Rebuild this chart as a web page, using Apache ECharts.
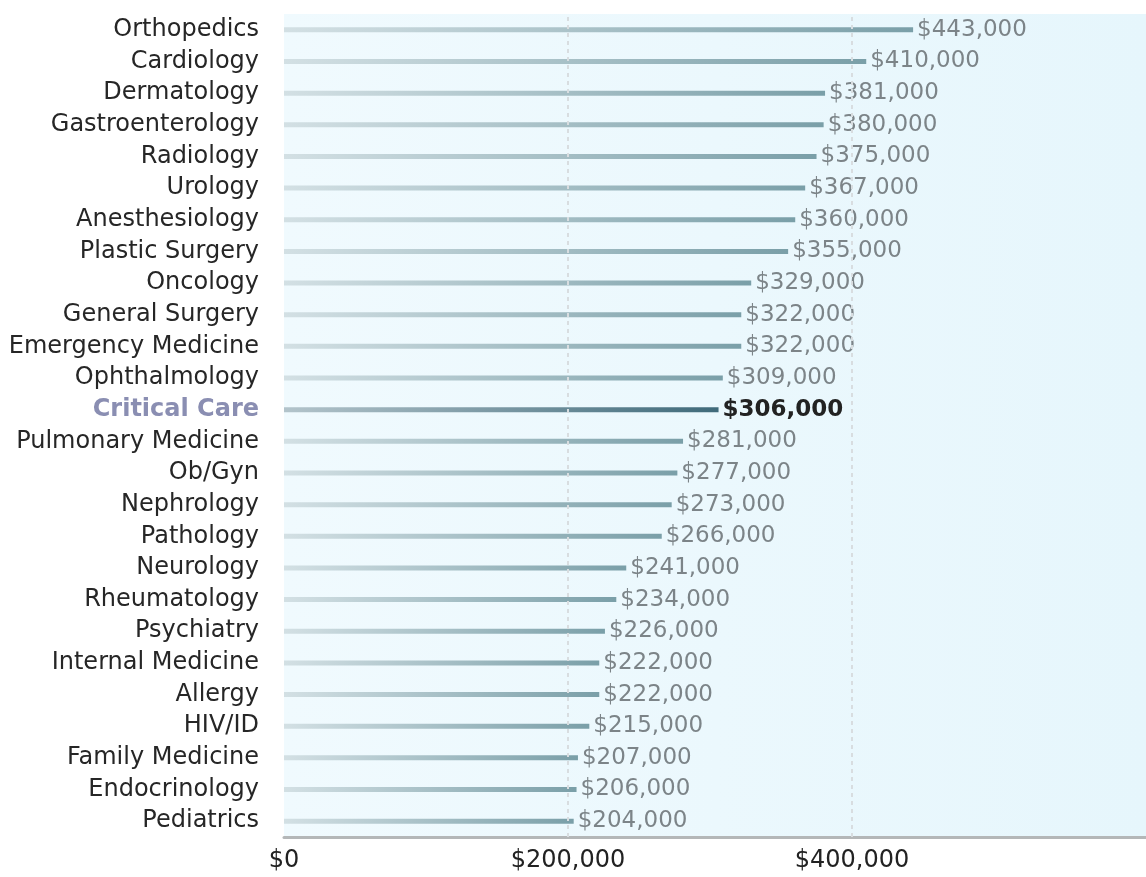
<!DOCTYPE html>
<html>
<head>
<meta charset="utf-8">
<script src="https://cdn.jsdelivr.net/npm/echarts@6/dist/echarts.min.js"></script>
<style>
  html, body { margin: 0; padding: 0; background: #fff; }
  #chart { width: 1146px; height: 877px; }
</style>
</head>
<body>
<div id="chart"></div>
<script>
// specialties, top to bottom
var specialties = ['Orthopedics', 'Cardiology', 'Dermatology', 'Gastroenterology', 'Radiology',
    'Urology', 'Anesthesiology', 'Plastic Surgery', 'Oncology', 'General Surgery',
    'Emergency Medicine', 'Ophthalmology', 'Critical Care', 'Pulmonary Medicine', 'Ob/Gyn',
    'Nephrology', 'Pathology', 'Neurology', 'Rheumatology', 'Psychiatry',
    'Internal Medicine', 'Allergy', 'HIV/ID', 'Family Medicine', 'Endocrinology', 'Pediatrics'];

// average compensation
var compensation = [443000, 410000, 381000, 380000, 375000, 367000, 360000, 355000, 329000, 322000,
    322000, 309000, 306000, 281000, 277000, 273000, 266000, 241000, 234000, 226000,
    222000, 222000, 215000, 207000, 206000, 204000];

var tickValues = [0, 200000, 400000];
var highlight = 'Critical Care';

function money(v) {
    return '$' + v.toString().replace(/\B(?=(\d{3})+(?!\d))/g, ',');
}

function grad(from, to) {
    return new echarts.graphic.LinearGradient(0, 0, 1, 0, [
        {offset: 0, color: from},
        {offset: 1, color: to}
    ]);
}

// category axis goes bottom-up, so flip
var cats = specialties.slice().reverse();
var vals = compensation.slice().reverse();

var yData = [];
var barData = [];
for (var i = 0; i < cats.length; i++) {
    if (cats[i] === highlight) {
        yData.push({value: cats[i], textStyle: {color: '#8a8eb2', fontWeight: 'bold'}});
        barData.push({
            value: vals[i],
            itemStyle: {color: grad('#b3c4cb', '#3f6a7a')},
            label: {color: '#222', fontWeight: 'bold'}
        });
    } else {
        yData.push(cats[i]);
        barData.push({value: vals[i], itemStyle: {color: grad('#d3e0e4', '#7a9fa8')}});
    }
}

var dom = document.getElementById('chart');
var myChart = echarts.init(dom);
var option = {
    animation: false,
    textStyle: {fontFamily: 'DejaVu Sans'},
    grid: {
        left: 284, right: 0, top: 14, bottom: 40,
        show: true,
        borderWidth: 0,
        backgroundColor: grad('#f0fafe', '#e6f6fc')
    },
    xAxis: {
        type: 'value',
        min: 0,
        max: 607000,
        axisLine: {show: true, lineStyle: {color: '#b4b7b8', width: 3}},
        axisTick: {show: false},
        splitLine: {show: false},
        axisLabel: {
            customValues: tickValues,
            formatter: function (v) { return money(v); },
            color: '#222',
            fontSize: 24,
            margin: 12
        }
    },
    yAxis: {
        type: 'category',
        data: yData,
        axisLine: {show: false},
        axisTick: {show: false},
        axisLabel: {color: '#262626', fontSize: 24, margin: 25}
    },
    series: [{
        type: 'bar',
        data: barData,
        barWidth: 5,
        label: {
            show: true,
            position: 'right',
            distance: 4,
            color: '#7c8488',
            fontSize: 23,
            formatter: function (p) { return money(p.value); }
        },
        markLine: {
            silent: true,
            symbol: 'none',
            label: {show: false},
            lineStyle: {color: '#d8dde0', type: [4, 4], width: 2},
            data: [{xAxis: 200000}, {xAxis: 400000}]
        },
        z: 3
    }]
};
myChart.setOption(option);
</script>
</body>
</html>
